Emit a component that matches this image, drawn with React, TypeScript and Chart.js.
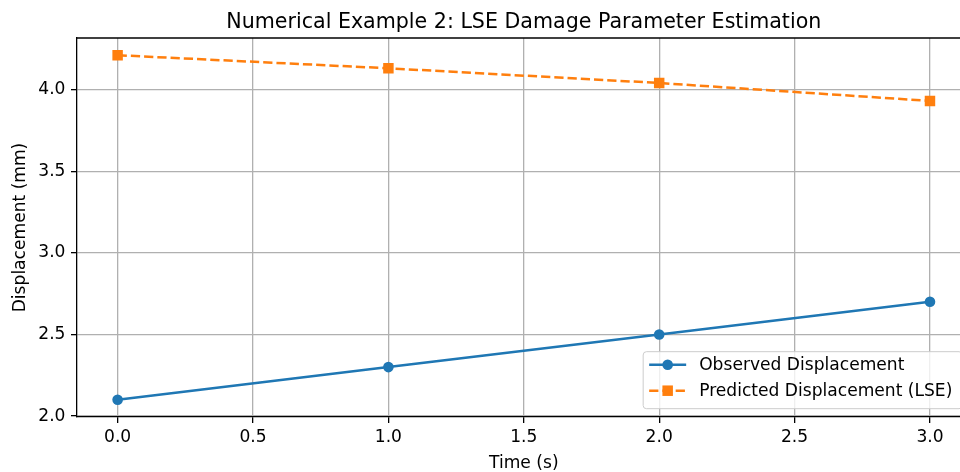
import React, { useEffect, useRef } from "react";
import { Chart, registerables } from "chart.js";

Chart.register(...registerables);

const chartTitle = "Numerical Example 2: LSE Damage Parameter Estimation";
const xAxisLabel = "Time (s)";
const yAxisLabel = "Displacement (mm)";
const timeS = [0, 1, 2, 3];
const observedDisplacement = [2.1, 2.3, 2.5, 2.7];
const predictedDisplacement = [4.21, 4.13, 4.04, 3.93];
const seriesLabels = ["Observed Displacement", "Predicted Displacement (LSE)"];
const xTickValues = [0, 0.5, 1, 1.5, 2, 2.5, 3];
const yTickValues = [2, 2.5, 3, 3.5, 4];

const W = 980;
const H = 472;
const FONT = '"DejaVu Sans", sans-serif';
const FS = 17.1;
const BLUE = "#1f77b4";
const ORANGE = "#ff7f0e";

export default function App() {
  const ref = useRef<HTMLCanvasElement>(null);

  useEffect(() => {
    document.body.style.margin = "0";
    const canvas = ref.current!;

    const overlay = {
      id: "overlay",
      afterDraw(chart: any) {
        const ctx = chart.ctx as CanvasRenderingContext2D;
        const a = chart.chartArea;
        ctx.save();
        // top spine
        ctx.strokeStyle = "#000";
        ctx.lineWidth = 1.3;
        ctx.beginPath();
        ctx.moveTo(a.left, a.top);
        ctx.lineTo(a.right, a.top);
        ctx.stroke();

        // title
        ctx.fillStyle = "#000";
        ctx.font = `20.6px ${FONT}`;
        ctx.textAlign = "center";
        ctx.textBaseline = "alphabetic";
        ctx.fillText(chartTitle, (a.left + a.right) / 2, a.top - 10);

        // x label
        ctx.font = `${FS}px ${FONT}`;
        ctx.fillText(xAxisLabel, (a.left + a.right) / 2, 468);

        // y label
        ctx.save();
        ctx.translate(25, (a.top + a.bottom) / 2);
        ctx.rotate(-Math.PI / 2);
        ctx.fillText(yAxisLabel, 0, 0);
        ctx.restore();

        // legend
        ctx.font = `${FS}px ${FONT}`;
        const ds = chart.data.datasets;
        const maxText = Math.max(...ds.map((d: any) => ctx.measureText(d.label).width));
        const pad = 6;
        const handle = 37;
        const textPad = 13;
        const right = a.right - 8.3;
        const bottom = a.bottom - 8.3;
        const boxW = pad + handle + textPad + maxText + pad + 4;
        const boxH = 57;
        const left = right - boxW;
        const top = bottom - boxH;
        const r = 3.3;
        ctx.beginPath();
        ctx.moveTo(left + r, top);
        ctx.lineTo(right - r, top);
        ctx.arcTo(right, top, right, top + r, r);
        ctx.lineTo(right, bottom - r);
        ctx.arcTo(right, bottom, right - r, bottom, r);
        ctx.lineTo(left + r, bottom);
        ctx.arcTo(left, bottom, left, bottom - r, r);
        ctx.lineTo(left, top + r);
        ctx.arcTo(left, top, left + r, top, r);
        ctx.closePath();
        ctx.fillStyle = "rgba(255,255,255,0.8)";
        ctx.fill();
        ctx.strokeStyle = "#cccccc";
        ctx.lineWidth = 1;
        ctx.stroke();

        ds.forEach((d: any, i: number) => {
          const cy = top + 13 + i * 26;
          const hx0 = left + pad;
          const hx1 = hx0 + handle;
          ctx.save();
          ctx.strokeStyle = d.borderColor;
          ctx.lineWidth = d.borderWidth;
          ctx.setLineDash(d.borderDash || []);
          ctx.beginPath();
          ctx.moveTo(hx0, cy);
          ctx.lineTo(hx1, cy);
          ctx.stroke();
          ctx.setLineDash([]);
          ctx.fillStyle = d.pointBackgroundColor;
          const mx = (hx0 + hx1) / 2;
          if (d.pointStyle === "rect") {
            const s = 10.5;
            ctx.fillRect(mx - s / 2, cy - s / 2, s, s);
          } else {
            ctx.beginPath();
            ctx.arc(mx, cy, 5.3, 0, Math.PI * 2);
            ctx.fill();
          }
          ctx.restore();
          ctx.fillStyle = "#000";
          ctx.textAlign = "left";
          ctx.textBaseline = "middle";
          ctx.fillText(d.label, hx1 + textPad, cy + 1);
        });
        ctx.restore();
      },
    };

    const tickFont = { family: FONT, size: FS };

    const chart = new Chart(canvas, {
      type: "line",
      data: {
        datasets: [
          {
            label: seriesLabels[0],
            data: timeS.map((t, i) => ({ x: t, y: observedDisplacement[i] })),
            borderColor: BLUE,
            backgroundColor: BLUE,
            pointBackgroundColor: BLUE,
            pointBorderColor: BLUE,
            borderWidth: 2.5,
            pointStyle: "circle",
            pointRadius: 5.3,
            pointBorderWidth: 0,
            tension: 0,
          },
          {
            label: seriesLabels[1],
            data: timeS.map((t, i) => ({ x: t, y: predictedDisplacement[i] })),
            borderColor: ORANGE,
            backgroundColor: ORANGE,
            pointBackgroundColor: ORANGE,
            pointBorderColor: ORANGE,
            borderWidth: 2.5,
            borderDash: [9.25, 4],
            pointStyle: "rect",
            pointRadius: 7.4,
            pointBorderWidth: 0,
            tension: 0,
          },
        ],
      },
      options: {
        animation: false,
        responsive: false,
        devicePixelRatio: 1,
        layout: { padding: { left: 0, top: 38, right: W - 970.6, bottom: 0 } },
        plugins: {
          legend: { display: false },
          title: { display: false },
          tooltip: { enabled: false },
        },
        scales: {
          x: {
            type: "linear",
            min: -0.15,
            max: 3.15,
            afterBuildTicks: (s: any) => {
              s.ticks = xTickValues.map((v) => ({ value: v }));
            },
            afterFit: (s: any) => {
              s.height = 55;
            },
            ticks: {
              autoSkip: false,
              maxRotation: 0,
              color: "#000",
              font: tickFont,
              padding: 4,
              callback: (v: any) => Number(v).toFixed(1),
            },
            grid: {
              color: "#b0b0b0",
              lineWidth: 1.3,
              drawTicks: true,
              tickLength: 6,
              tickColor: "#000",
              tickWidth: 1.3,
            },
            border: { color: "#000", width: 1.3 },
          },
          y: {
            type: "linear",
            min: 1.9945,
            max: 4.3155,
            afterBuildTicks: (s: any) => {
              s.ticks = yTickValues.map((v) => ({ value: v }));
            },
            afterFit: (s: any) => {
              s.width = 77;
            },
            ticks: {
              autoSkip: false,
              color: "#000",
              font: tickFont,
              padding: 5.5,
              callback: (v: any) => Number(v).toFixed(1),
            },
            grid: {
              color: "#b0b0b0",
              lineWidth: 1.3,
              drawTicks: true,
              tickLength: 6,
              tickColor: "#000",
              tickWidth: 1.3,
            },
            border: { color: "#000", width: 1.3 },
          },
        },
      },
      plugins: [overlay],
    });

    return () => chart.destroy();
  }, []);

  return (
    <div
      style={{
        position: "fixed",
        left: 0,
        top: 0,
        width: 960,
        height: 472,
        overflow: "hidden",
        background: "#fff",
      }}
    >
      <canvas ref={ref} width={W} height={H} style={{ width: W, height: H, display: "block" }} />
    </div>
  );
}
